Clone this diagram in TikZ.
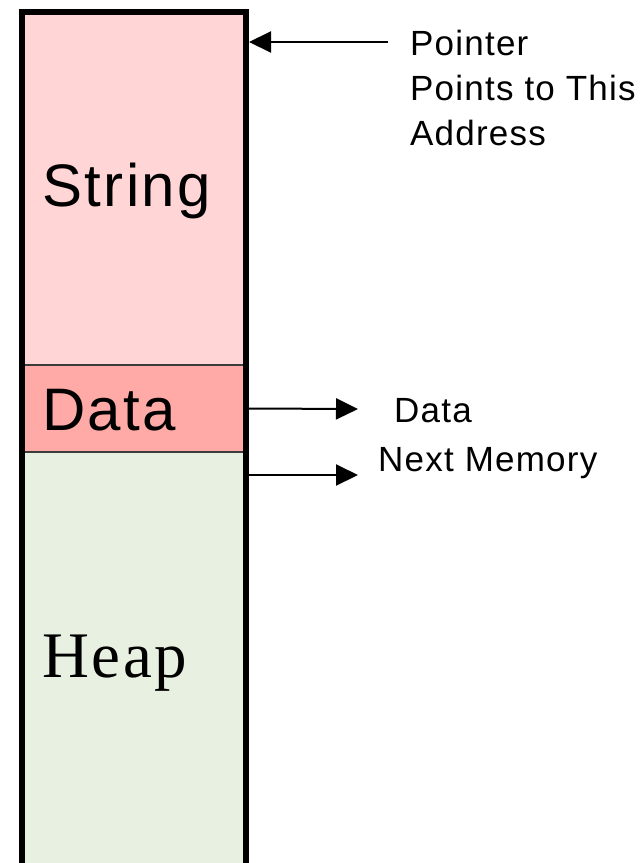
\documentclass[tikz,border=0pt]{standalone}
\usepackage{fontspec}
\setmainfont{Liberation Sans}
\newfontfamily\cellfont[LetterSpace=4]{Liberation Sans}
\newfontfamily\sidefont[LetterSpace=3.5]{Liberation Sans}
\newfontfamily\heapfont[LetterSpace=4]{Liberation Serif}
\usetikzlibrary{arrows.meta}
\definecolor{stringfill}{RGB}{255,213,213}
\definecolor{datafill}{RGB}{255,170,166}
\definecolor{heapfill}{RGB}{232,240,226}
\definecolor{divider}{RGB}{60,60,60}
\tikzset{
  cell/.style={rectangle, inner sep=0pt, outer sep=0pt, minimum width=224pt},
  celltext/.style={anchor=base west, inner sep=0pt},
  sidetext/.style={anchor=base west, inner sep=0pt, font=\fontsize{35}{40}\sidefont},
  arr/.style={line width=2pt, -{Triangle[length=22pt, width=21pt]}},
}
\begin{document}
\begin{tikzpicture}[x=1pt, y=-1pt]
  \useasboundingbox (0,0) rectangle (644,863);

  % memory cells
  \node[cell, fill=stringfill, minimum height=353pt, anchor=north west] (strcell) at (22,12) {};
  \node[cell, fill=datafill, minimum height=87pt, anchor=north west] (datacell) at (22,365) {};
  \node[cell, fill=heapfill, minimum height=411pt, anchor=north west] (heapcell) at (22,452) {};

  % dividers between cells
  \draw[divider, line width=1.3pt] (datacell.north west) -- (datacell.north east);
  \draw[divider, line width=1.3pt] (heapcell.north west) -- (heapcell.north east);
  \draw[gray!70, line width=1pt] ([yshift=-2pt]heapcell.south west) -- ([yshift=-2pt]heapcell.south east);

  % outer frame, open at the bottom
  \draw[black, line width=6pt, line join=miter]
    (heapcell.south west) -- (strcell.north west) -- (strcell.north east) -- (heapcell.south east);

  % cell labels
  \node[celltext, font=\fontsize{60}{60}\cellfont] (strlabel) at (42,206) {String};
  \node[celltext, font=\fontsize{60}{60}\cellfont] (datalabel) at (42,430) {Data};
  \node[celltext, font=\fontsize{65}{65}\heapfont] (heaplabel) at (42,677) {Heap};

  % side labels
  \node[sidetext] (ptr1) at (410,55) {Pointer};
  \node[sidetext] (ptr2) at (410,100) {Points to This};
  \node[sidetext] (ptr3) at (410,145) {Address};
  \node[sidetext] (dataout) at (394,422) {Data};
  \node[sidetext] (nextout) at (378,471) {Next Memory};

  % arrows
  \coordinate (ptrtail) at (388,42);
  \coordinate (datahead) at (358,409);
  \coordinate (nexthead) at (358,475);
  \coordinate (nexttail) at (249,475);
  \draw[arr] (ptrtail) -- ([xshift=3pt]strcell.east |- ptrtail);
  \draw[arr] ([xshift=3pt]datacell.east) -- (datahead);
  \draw[arr] (nexttail) -- (nexthead);
\end{tikzpicture}
\end{document}
